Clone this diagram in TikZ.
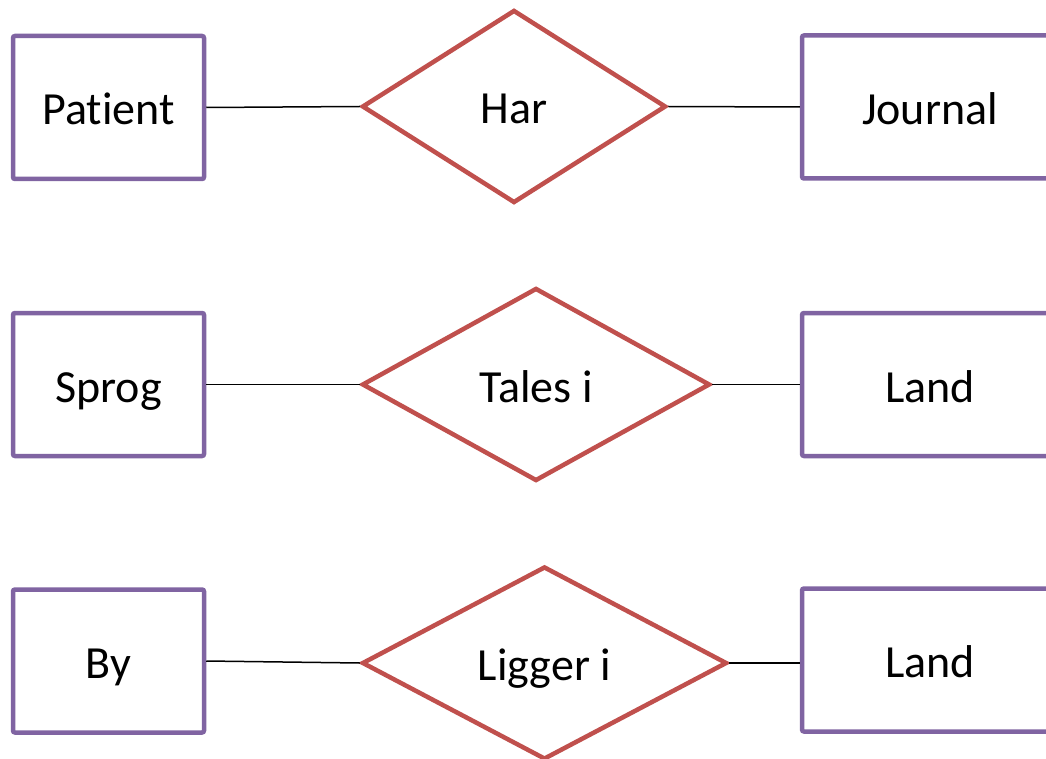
\documentclass[tikz,border=0pt]{standalone}
\usepackage{fontspec}
\setmainfont[Ligatures={NoCommon,NoRare,NoContextual}]{Carlito}
\usetikzlibrary{shapes.geometric}
\definecolor{entpurple}{HTML}{8064A2}
\definecolor{relred}{HTML}{C0504D}
\tikzset{
  entity/.style={draw=entpurple, line width=4.5pt, rectangle, rounded corners=2pt, fill=white,
     minimum height=143pt, inner sep=0pt, text height=35pt, text depth=0pt,
     font=\fontsize{46}{55}\selectfont},
  relation/.style={draw=relred, line width=4.5pt, diamond, fill=white, inner sep=0pt,
     minimum height=193pt, text height=35pt, text depth=0pt,
     font=\fontsize{46}{55}\selectfont},
  link/.style={draw=black, line width=1.5pt}
}
\begin{document}
\begin{tikzpicture}[x=1pt,y=-1pt]
\useasboundingbox (0,0) rectangle (1046,759);
\clip (0,0) rectangle (1046,759);
% row 1
\node[entity, minimum width=191pt] (patient) at (108.5,107.5) {Patient};
\node[relation, minimum width=304pt] (har) at (514,106.5) {Har};
\node[entity, minimum width=256pt] (journal) at (930,107) {Journal};
% row 2
\node[entity, minimum width=191pt] (sprog) at (108.5,384.5) {Sprog};
\node[relation, minimum width=348pt] (tales) at (536,384.5) {Tales i};
\node[entity, minimum width=256pt] (land1) at (930,384.5) {Land};
% row 3
\node[entity, minimum width=191pt] (by) at (108.5,661) {By};
\node[relation, minimum width=365pt] (ligger) at (544.5,663) {Ligger i};
\node[entity, minimum width=256pt] (land2) at (930,660) {Land};
% connectors
\draw[link] (patient.east) -- (har.west);
\draw[link] (har.east) -- (journal.west);
\draw[link] (sprog.east) -- (tales.west);
\draw[link] (tales.east) -- (land1.west);
\draw[link] (by.east) -- (ligger.west);
\draw[link] (ligger.east) -- (ligger.east -| land2.west);
\end{tikzpicture}
\end{document}
